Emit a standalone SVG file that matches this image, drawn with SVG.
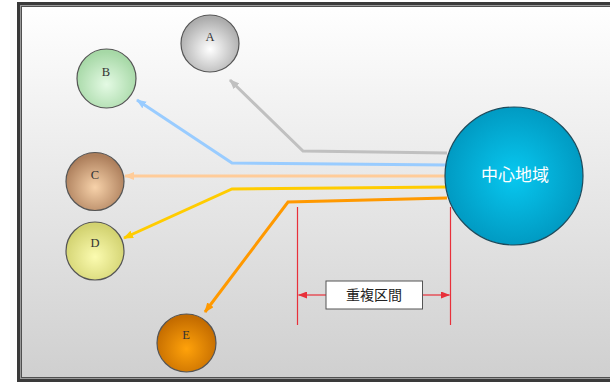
<svg xmlns="http://www.w3.org/2000/svg" width="610" height="383" viewBox="0 0 610 383">
<style>
.lbl{font-family:"Liberation Serif","DejaVu Serif",serif;font-size:12.5px;fill:#333;text-anchor:middle}
.node{stroke:#555;stroke-width:1.2}
.conn{fill:none;stroke-width:3;stroke-linejoin:miter}
.dim{stroke:#e8303a;stroke-width:1.2;fill:none}
</style>
<defs>
<linearGradient id="bg" x1="0" y1="0" x2="0" y2="1">
<stop offset="0" stop-color="#ffffff"/>
<stop offset="1" stop-color="#cfcfcf"/>
</linearGradient>
<radialGradient id="gA" cx="0.5" cy="0.6" r="0.55"><stop offset="0" stop-color="#ffffff"/><stop offset="1" stop-color="#acacac"/></radialGradient>
<radialGradient id="gB" cx="0.5" cy="0.6" r="0.55"><stop offset="0" stop-color="#e4fae4"/><stop offset="1" stop-color="#a6d8a6"/></radialGradient>
<radialGradient id="gC" cx="0.5" cy="0.6" r="0.55"><stop offset="0" stop-color="#f7d2aa"/><stop offset="1" stop-color="#ad7f5c"/></radialGradient>
<radialGradient id="gD" cx="0.5" cy="0.6" r="0.55"><stop offset="0" stop-color="#fbfbb0"/><stop offset="1" stop-color="#d2d270"/></radialGradient>
<radialGradient id="gE" cx="0.5" cy="0.6" r="0.55"><stop offset="0" stop-color="#ffa20a"/><stop offset="1" stop-color="#c46c00"/></radialGradient>
<radialGradient id="gM" cx="0.5" cy="0.5" r="0.55"><stop offset="0" stop-color="#08c8f0"/><stop offset="1" stop-color="#0096be"/></radialGradient>
<marker id="aGray" markerWidth="10" markerHeight="8" refX="9" refY="4" orient="auto" markerUnits="userSpaceOnUse"><path d="M0,0 L10,4 L0,8 z" fill="#c0c0c0"/></marker>
<marker id="aBlue" markerWidth="10" markerHeight="8" refX="9" refY="4" orient="auto" markerUnits="userSpaceOnUse"><path d="M0,0 L10,4 L0,8 z" fill="#99ccff"/></marker>
<marker id="aPeach" markerWidth="10" markerHeight="8" refX="9" refY="4" orient="auto" markerUnits="userSpaceOnUse"><path d="M0,0 L10,4 L0,8 z" fill="#ffcc99"/></marker>
<marker id="aYellow" markerWidth="10" markerHeight="8" refX="9" refY="4" orient="auto" markerUnits="userSpaceOnUse"><path d="M0,0 L10,4 L0,8 z" fill="#ffcc00"/></marker>
<marker id="aOrange" markerWidth="10" markerHeight="8" refX="9" refY="4" orient="auto" markerUnits="userSpaceOnUse"><path d="M0,0 L10,4 L0,8 z" fill="#ff9900"/></marker>
<marker id="aRed" markerWidth="9" markerHeight="7" refX="8.5" refY="3.5" orient="auto" markerUnits="userSpaceOnUse"><path d="M0,0 L9,3.5 L0,7 z" fill="#e8303a"/></marker>
</defs>
<rect x="0" y="0" width="610" height="383" fill="#ffffff"/>
<rect x="18.5" y="3.5" width="600" height="377" fill="url(#bg)" stroke="#3a3a3a" stroke-width="3"/>
<rect x="20.5" y="5.5" width="596" height="373" fill="none" stroke="#9a9a9a" stroke-width="1"/>
<rect x="21.5" y="6.5" width="594" height="371" fill="none" stroke="#505050" stroke-width="1"/>

<g id="connectors">
<polyline class="conn" stroke="#c0c0c0" points="447,153 303,151 230,80" marker-end="url(#aGray)"/>
<polyline class="conn" stroke="#99ccff" points="447,165 232,163 137,100" marker-end="url(#aBlue)"/>
<polyline class="conn" stroke="#ffcc99" points="447,176 125,176" marker-end="url(#aPeach)"/>
<polyline class="conn" stroke="#ffcc00" points="447,187 232,189 124,238" marker-end="url(#aYellow)"/>
<polyline class="conn" stroke="#ff9900" points="447,198 288,202 205,312" marker-end="url(#aOrange)"/>
</g>

<g id="dimension">
<line class="dim" x1="297.5" y1="207" x2="297.5" y2="325"/>
<line class="dim" x1="450.5" y1="207" x2="450.5" y2="325"/>
<line class="dim" x1="326" y1="295" x2="298.5" y2="295" marker-end="url(#aRed)"/>
<line class="dim" x1="422" y1="295" x2="449.5" y2="295" marker-end="url(#aRed)"/>
<rect x="326" y="281" width="96.5" height="28" fill="#ffffff" stroke="#555" stroke-width="1"/>
<text x="374" y="300" font-family="'Noto Sans CJK JP',sans-serif" font-size="14" fill="#222" text-anchor="middle">重複区間</text>
</g>

<g id="center">
<circle cx="514" cy="176" r="69" fill="url(#gM)" stroke="#1d4b5c" stroke-width="1.2"/>
<text x="515" y="181" font-family="'Noto Sans CJK JP',sans-serif" font-size="17" fill="#ffffff" text-anchor="middle">中心地域</text>
</g>
<g id="A"><ellipse class="node" cx="210" cy="43.5" rx="29" ry="28.5" fill="url(#gA)"/><text class="lbl" x="210" y="41">A</text></g>
<g id="B"><ellipse class="node" cx="106.5" cy="78.5" rx="29.5" ry="29.5" fill="url(#gB)"/><text class="lbl" x="106" y="76">B</text></g>
<g id="C"><ellipse class="node" cx="95" cy="181.5" rx="29" ry="29" fill="url(#gC)"/><text class="lbl" x="95" y="179">C</text></g>
<g id="D"><ellipse class="node" cx="95" cy="251" rx="29" ry="29" fill="url(#gD)"/><text class="lbl" x="95" y="247">D</text></g>
<g id="E"><ellipse class="node" cx="186.5" cy="343" rx="29.5" ry="29" fill="url(#gE)"/><text class="lbl" x="186" y="339">E</text></g>
</svg>
